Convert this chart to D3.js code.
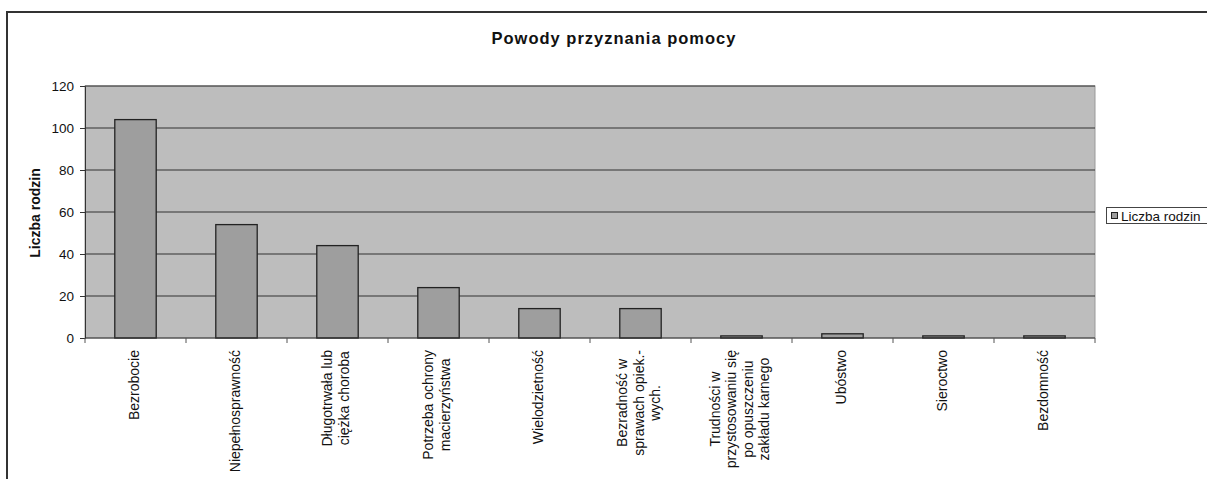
<!doctype html>
<meta charset="utf-8">

<style>
 body { margin: 0; background: #fff; }
 text { font-family: "Liberation Sans", Arial, sans-serif; fill: #111; }
 .title { font-size: 16.5px; font-weight: bold; letter-spacing: 1px; }
 .ytitle { font-size: 14px; font-weight: bold; }
 .yaxis text { font-size: 13.5px; }
 .cat text { font-size: 14px; }
 .legend text { font-size: 13.5px; }
</style>

<svg width="1207" height="479"></svg>

<script src="https://d3js.org/d3.v7.min.js"></script>
<script>
 // Data
 var categories = [
   ["Bezrobocie"],
   ["Niepełnosprawność"],
   ["Długotrwała lub", "ciężka choroba"],
   ["Potrzeba ochrony", "macierzyństwa"],
   ["Wielodzietność"],
   ["Bezradność w", "sprawach opiek.-", "wych."],
   ["Trudności w", "przystosowaniu się", "po opuszczeniu", "zakładu karnego"],
   ["Ubóstwo"],
   ["Sieroctwo"],
   ["Bezdomność"]
 ];
 var values = [104, 54, 44, 24, 14, 14, 1, 2, 1, 1];
 var yTicks = [0, 20, 40, 60, 80, 100, 120];
 var seriesName = "Liczba rodzin";

 var svg = d3.select('svg');
 var plot = { left: 85, right: 1095, top: 86, bottom: 338 };

 // chart frame (runs off the right and bottom of the scan)
 svg.append('rect')
   .attr('x', 7).attr('y', 12)
   .attr('width', 1260).attr('height', 520)
   .attr('fill', 'none').attr('stroke', '#333').attr('stroke-width', 2);

 var x = d3.scaleBand()
   .domain(d3.range(categories.length))
   .range([plot.left, plot.right]);
 var y = d3.scaleLinear().domain([0, 120]).range([plot.bottom, plot.top]);

 // plot area
 svg.append('rect')
   .attr('x', plot.left).attr('y', plot.top)
   .attr('width', plot.right - plot.left).attr('height', plot.bottom - plot.top)
   .attr('fill', '#bdbdbd').attr('stroke', '#999');

 // gridlines
 svg.append('g')
   .selectAll('line')
   .data(yTicks.filter(function(d) { return d > 0; }))
   .join('line')
   .attr('x1', plot.left).attr('x2', plot.right)
   .attr('y1', function(d) { return y(d); })
   .attr('y2', function(d) { return y(d); })
   .attr('stroke', '#333').attr('stroke-width', 1.2);

 // bars
 var bw = x.bandwidth() * 0.41;
 svg.append('g')
   .selectAll('rect')
   .data(values)
   .join('rect')
   .attr('x', function(d, i) { return x(i) + (x.bandwidth() - bw) / 2; })
   .attr('y', function(d) { return y(d); })
   .attr('width', bw)
   .attr('height', function(d) { return y(0) - y(d); })
   .attr('fill', '#9e9e9e')
   .attr('stroke', '#222').attr('stroke-width', 1.3);

 // y axis
 var yAxis = svg.append('g')
   .attr('class', 'yaxis')
   .attr('transform', 'translate(' + plot.left + ',0)')
   .call(d3.axisLeft(y).tickValues(yTicks).tickSize(5).tickPadding(6));
 yAxis.select('.domain').attr('stroke', '#333');
 yAxis.selectAll('.tick line').attr('stroke', '#333');

 // x axis line and ticks between categories
 svg.append('line')
   .attr('x1', plot.left).attr('x2', plot.right)
   .attr('y1', plot.bottom).attr('y2', plot.bottom)
   .attr('stroke', '#333').attr('stroke-width', 1.2);
 svg.append('g')
   .selectAll('line')
   .data(d3.range(categories.length + 1))
   .join('line')
   .attr('x1', function(i) { return plot.left + i * x.step(); })
   .attr('x2', function(i) { return plot.left + i * x.step(); })
   .attr('y1', plot.bottom).attr('y2', plot.bottom + 5)
   .attr('stroke', '#555');

 // category labels, rotated, lines centred on each other
 var lineH = 16.5;
 var cat = svg.append('g').attr('class', 'cat');
 categories.forEach(function(lines, i) {
   var g = cat.append('g');
   var cx = x(i) + x.bandwidth() / 2;
   var texts = lines.map(function(s) { return g.append('text').text(s); });
   var maxLen = d3.max(texts, function(t) { return t.node().getComputedTextLength(); });
   var cy = 350 + maxLen / 2;
   texts.forEach(function(t, k) {
     var lx = cx + (k - (lines.length - 1) / 2) * lineH + 3;
     t.attr('text-anchor', 'middle')
      .attr('transform', 'translate(' + lx + ',' + cy + ') rotate(-90)');
   });
 });

 // titles
 svg.append('text').attr('class', 'title')
   .attr('x', 614).attr('y', 44).attr('text-anchor', 'middle')
   .text('Powody przyznania pomocy');
 svg.append('text').attr('class', 'ytitle')
   .attr('text-anchor', 'middle')
   .attr('transform', 'translate(40,213) rotate(-90)')
   .text(seriesName);

 // legend (cut off by the scan edge)
 var lg = svg.append('g').attr('class', 'legend');
 lg.append('rect').attr('x', 1106.5).attr('y', 207.5)
   .attr('width', 120).attr('height', 16)
   .attr('fill', '#fff').attr('stroke', '#444');
 lg.append('rect').attr('x', 1111.5).attr('y', 212.5)
   .attr('width', 6).attr('height', 6)
   .attr('fill', '#9e9e9e').attr('stroke', '#222');
 lg.append('text').attr('x', 1121).attr('y', 220.5).text(seriesName);
</script>
